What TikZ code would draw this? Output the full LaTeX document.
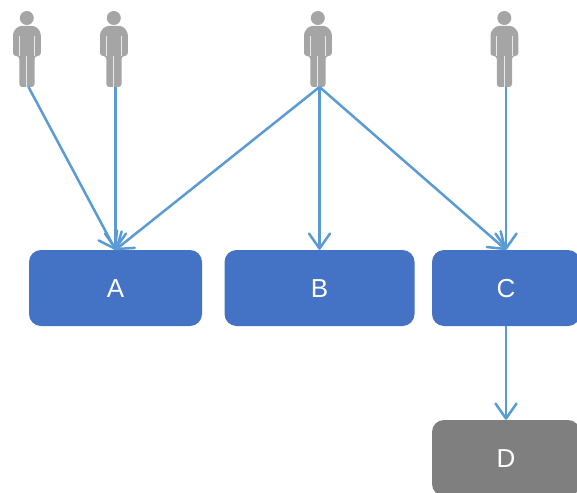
\documentclass[tikz,border=0pt]{standalone}
\usepackage{fontspec}
\setmainfont{Liberation Sans}
\usepackage{xcolor}
\usetikzlibrary{arrows.meta}
\definecolor{boxblue}{HTML}{4472C4}
\definecolor{linkblue}{HTML}{5B9BD5}
\definecolor{boxgrey}{HTML}{7F7F7F}
\definecolor{persongrey}{HTML}{A5A5A5}
\tikzset{
	box/.style={fill=#1,rounded corners=12pt,inner sep=0pt,minimum height=76pt,text=white,text height=18pt,text depth=0pt,yshift=-1pt,font=\fontsize{26}{26}\selectfont},
	link/.style={draw=linkblue,line width=2.5pt,-{Straight Barb[round,length=15pt,width=21pt,line width=2.5pt]}},
	person/.pic={
		\fill[persongrey] (-1.7,-69) circle[radius=7];
		\fill[persongrey,rounded corners=3pt] (-15.5,-31) -- (-15.5,-55) -- (-10,-61) -- (7,-61) -- (12.3,-55) -- (12.3,-31) -- (6,-31) -- (6,0) -- (-9.2,0) -- (-9.2,-31) -- cycle;
		\draw[white!75!persongrey,line width=1pt] (-9.2,-51) -- (-9.2,-31) (6,-51) -- (6,-31) (-1.7,-31) -- (-1.7,0);
	}
}
\begin{document}
\begin{tikzpicture}[x=1pt,y=-1pt]
	\clip (0,0) rectangle (577,492);
	\useasboundingbox (0,0) rectangle (577,492);

	\foreach \i/\x in {1/28.5,2/115.5,3/319.5,4/506}{
		\coordinate (u\i) at (\x,87);
		\pic at (u\i) {person};
	}

	\node[box=boxblue,minimum width=173pt] (A) at (115.5,287) {A};
	\node[box=boxblue,minimum width=190pt] (B) at (319.5,287) {B};
	\node[box=boxblue,minimum width=148pt] (C) at (506,287) {C};
	\node[box=boxgrey,minimum width=148pt] (D) at (506,457) {D};

	\draw[link] (u1) -- (A.north);
	\draw[link] (u2) -- (A.north);
	\draw[link] (u3) -- (A.north);
	\draw[link] (u3) -- (B.north);
	\draw[link] (u3) -- (C.north);
	\draw[link] (u4) -- (C.north);
	\draw[link] (C.south) -- (D.north);
\end{tikzpicture}
\end{document}
